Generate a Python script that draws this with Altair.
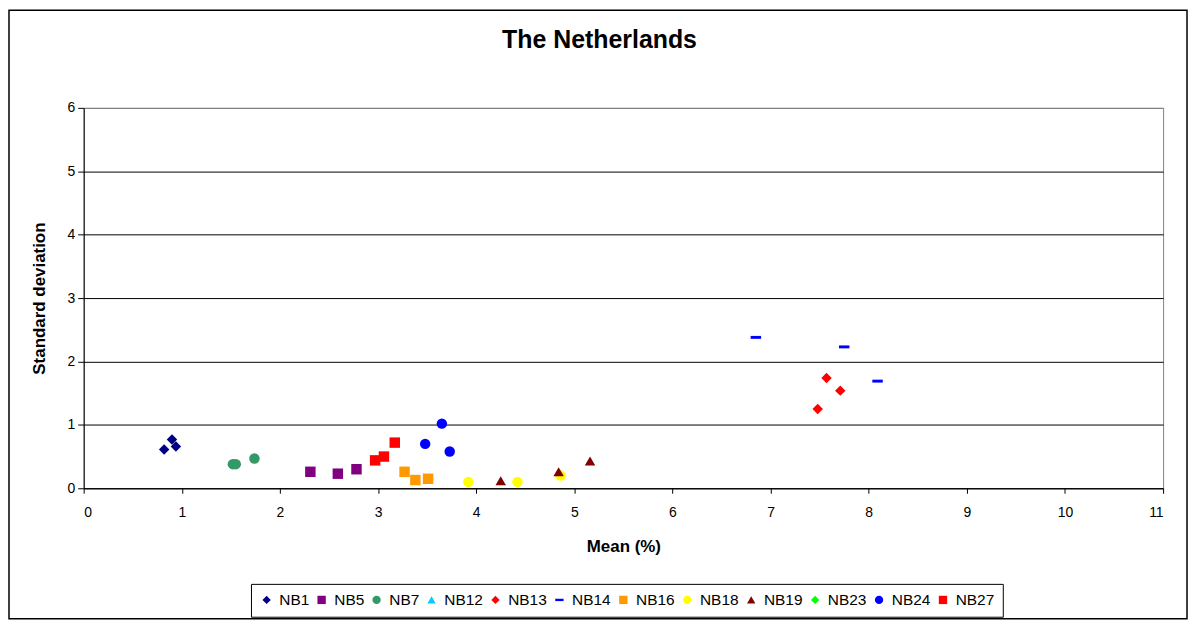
import altair as alt
import pandas as pd

# Series (legend order) with their colours and marker shapes
series_names = ["NB1", "NB5", "NB7", "NB12", "NB13", "NB14", "NB16", "NB18", "NB19", "NB23", "NB24", "NB27"]
series_colors = ["#000080", "#800080", "#339966", "#00CCFF", "#FF0000", "#0000FF",
                 "#FF9900", "#FFFF00", "#800000", "#00FF00", "#0000FF", "#FF0000"]
dash = "M-1,-0.28L1,-0.28L1,0.28L-1,0.28Z"
series_shapes = ["diamond", "square", "circle", "triangle-up", "diamond", dash,
                 "square", "circle", "triangle-up", "diamond", "circle", "square"]

# Points
point_series = ["NB1", "NB1", "NB1",
                "NB5", "NB5", "NB5",
                "NB7", "NB7", "NB7",
                "NB13", "NB13", "NB13",
                "NB14", "NB14", "NB14",
                "NB16", "NB16", "NB16",
                "NB18", "NB18", "NB18",
                "NB19", "NB19", "NB19",
                "NB24", "NB24", "NB24",
                "NB27", "NB27", "NB27"]
point_mean = [0.82, 0.90, 0.94,
              2.31, 2.59, 2.78,
              1.52, 1.55, 1.74,
              7.57, 7.71, 7.48,
              6.85, 7.75, 8.09,
              3.27, 3.38, 3.51,
              3.92, 4.42, 4.86,
              4.25, 4.84, 5.16,
              3.65, 3.48, 3.73,
              2.97, 3.06, 3.17]
point_sd = [0.61, 0.77, 0.66,
            0.26, 0.23, 0.30,
            0.38, 0.38, 0.47,
            1.74, 1.54, 1.25,
            2.38, 2.23, 1.69,
            0.26, 0.13, 0.15,
            0.10, 0.10, 0.20,
            0.12, 0.26, 0.43,
            1.02, 0.70, 0.58,
            0.44, 0.50, 0.72]

df = pd.DataFrame({"series": point_series, "mean": point_mean, "sd": point_sd})
df["order"] = df["series"].map({s: i for i, s in enumerate(series_names)})
df = df.sort_values("order", kind="stable")

FONT = "Liberation Sans, Arial, sans-serif"
W, H = 1084, 382

points = alt.Chart(df).mark_point(filled=True, opacity=1, size=110, strokeWidth=0).encode(
    x=alt.X("mean:Q", scale=alt.Scale(domain=[0, 11], nice=False),
            axis=alt.Axis(title="Mean (%)", values=list(range(0, 12)), grid=False,
                          domainColor="black", tickColor="black", tickSize=5,
                          labelPadding=12, titlePadding=20)),
    y=alt.Y("sd:Q", scale=alt.Scale(domain=[0, 6], nice=False),
            axis=alt.Axis(title="Standard deviation", values=list(range(0, 7)),
                          grid=True,
                          gridColor={"condition": {"test": "datum.value == 6", "value": "#808080"},
                                     "value": "black"},
                          domainColor="black", tickColor="black", tickSize=6,
                          labelPadding=3, titlePadding=19)),
    color=alt.Color("series:N", scale=alt.Scale(domain=series_names, range=series_colors),
                    legend=alt.Legend(title=None, orient="none", legendX=168, legendY=478,
                                      direction="horizontal", columns=12,
                                      strokeColor="black", padding=8,
                                      symbolSize=70, labelFontSize=15.5, labelFont=FONT,
                                      labelColor="black", columnPadding=4.2, labelOffset=5,
                                      symbolStrokeWidth=0)),
    shape=alt.Shape("series:N", scale=alt.Scale(domain=series_names, range=series_shapes),
                    legend=alt.Legend(title=None, orient="none", legendX=168, legendY=478,
                                      direction="horizontal", columns=12)),
    order=alt.Order("order:Q"),
)

frame = alt.Chart(alt.Data(values=[{"a": 1}])).mark_rect(
    filled=False, stroke="black", strokeWidth=1.5, fill=None
).encode(
    x=alt.value(-75), x2=alt.value(W + 24),
    y=alt.value(-98), y2=alt.value(H + 131),
)

chart = alt.layer(points, frame).properties(
    width=W, height=H,
    title=alt.TitleParams("The Netherlands", fontSize=25, font=FONT, fontWeight="bold",
                          anchor="middle", baseline="alphabetic", offset=-64, dx=-24,
                          color="black"),
    autosize=alt.AutoSizeParams(type="none"),
    padding={"left": 76, "top": 99, "right": 26, "bottom": 133},
).configure_view(stroke="#808080", strokeWidth=1).configure_axis(
    labelFont=FONT, labelFontSize=14, labelColor="black",
    titleFont=FONT, titleFontSize=17, titleFontWeight="bold", titleColor="black",
)

chart.save("out.html", embed_options={"renderer": "svg", "actions": False})
